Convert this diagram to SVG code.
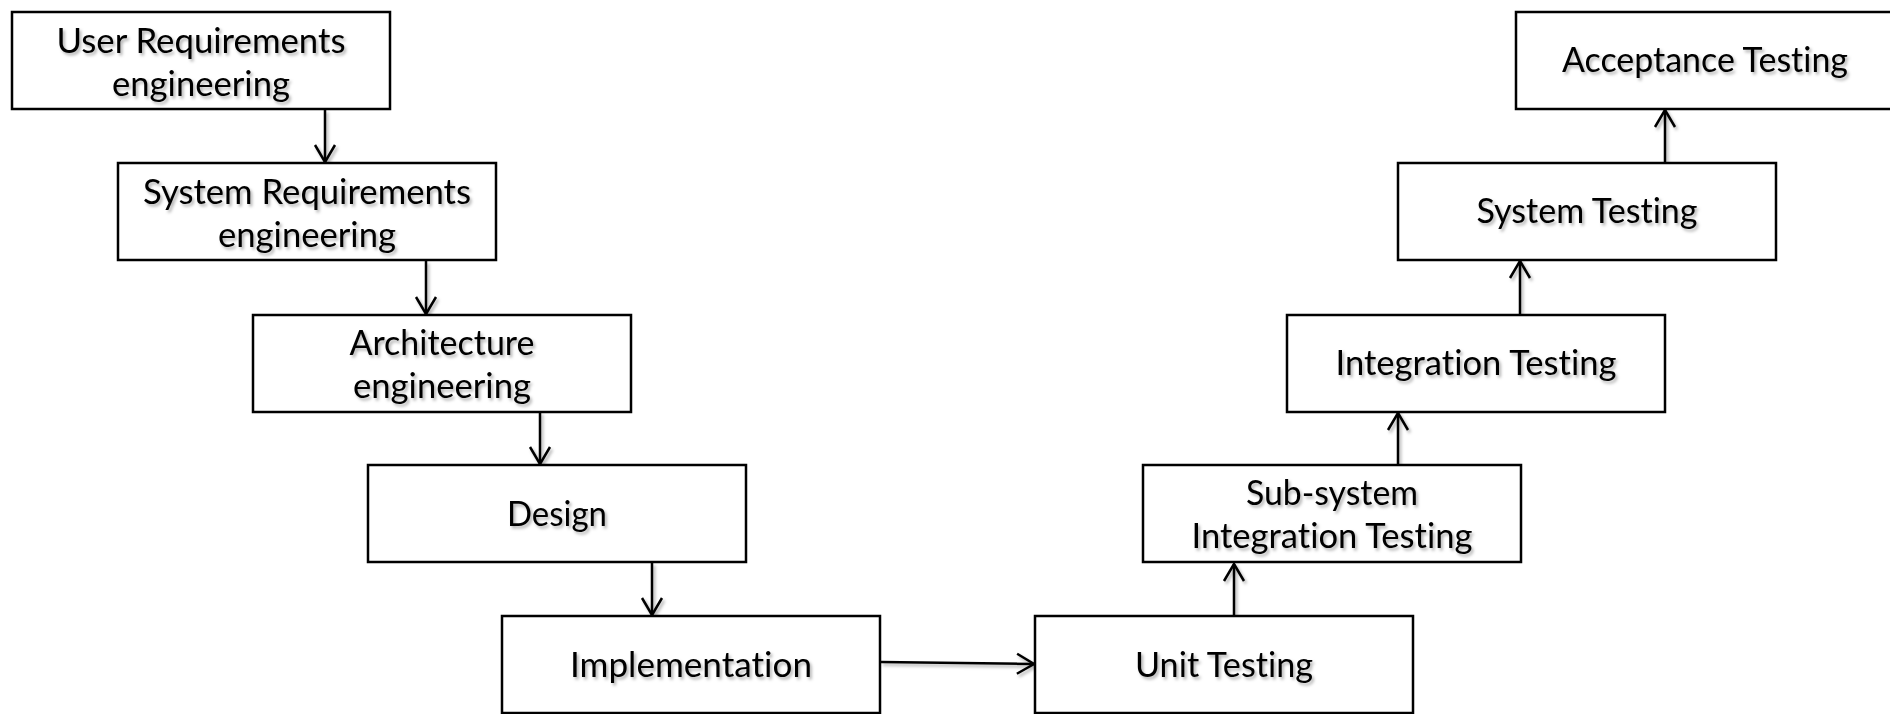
<svg xmlns="http://www.w3.org/2000/svg" width="1890" height="714" viewBox="0 0 1890 714">
  <style>
    .box { fill: #ffffff; stroke: #000000; stroke-width: 2.5; }
    .lbl { font-family: Lato, "Open Sans", "Liberation Sans", sans-serif; font-size: 35px; fill: #000000; text-anchor: middle; font-variant-ligatures: none; font-feature-settings: "liga" 0; }
    .wire { fill: none; stroke: #000000; stroke-width: 2.5; marker-end: url(#chev); }
    .soft { filter: url(#shade); }
  </style>
  <defs>
    <!-- soft grey drop shadow used by the labels and the lines -->
    <filter id="shade" x="-10%" y="-20%" width="130%" height="160%">
      <feDropShadow dx="2" dy="2.5" stdDeviation="1.6" flood-color="#000000" flood-opacity="0.3"/>
    </filter>
    <!-- open V arrowhead -->
    <marker id="chev" viewBox="-20 -12 24 24" refX="0" refY="0" markerWidth="24" markerHeight="24" markerUnits="userSpaceOnUse" orient="auto">
      <path d="M -17 -10 L 0 0 L -17 10" fill="none" stroke="#000000" stroke-width="2.5"/>
    </marker>
  </defs>

  <rect x="0" y="0" width="1890" height="714" fill="#ffffff"/>

  <!-- connectors -->
  <g id="connectors" class="soft">
    <line class="wire" x1="325" y1="110" x2="325" y2="162"/>
    <line class="wire" x1="426" y1="261" x2="426" y2="314"/>
    <line class="wire" x1="540" y1="412" x2="540" y2="464"/>
    <line class="wire" x1="652" y1="563" x2="652" y2="615"/>
    <line class="wire" x1="881" y1="662" x2="1034" y2="664"/>
    <line class="wire" x1="1234" y1="616" x2="1234" y2="564"/>
    <line class="wire" x1="1398" y1="465" x2="1398" y2="413"/>
    <line class="wire" x1="1520" y1="315" x2="1520" y2="261"/>
    <line class="wire" x1="1665" y1="163" x2="1665" y2="110"/>
  </g>

  <!-- left leg: engineering stages -->
  <g id="user-requirements">
    <rect class="box" x="12" y="12" width="378" height="97"/>
    <g class="soft">
      <text class="lbl" x="201" y="53" textLength="289" lengthAdjust="spacingAndGlyphs">User Requirements</text>
      <text class="lbl" x="201" y="96" textLength="178" lengthAdjust="spacingAndGlyphs">engineering</text>
    </g>
  </g>
  <g id="system-requirements">
    <rect class="box" x="118" y="163" width="378" height="97"/>
    <g class="soft">
      <text class="lbl" x="307" y="204" textLength="328" lengthAdjust="spacingAndGlyphs">System Requirements</text>
      <text class="lbl" x="307" y="247" textLength="178" lengthAdjust="spacingAndGlyphs">engineering</text>
    </g>
  </g>
  <g id="architecture">
    <rect class="box" x="253" y="315" width="378" height="97"/>
    <g class="soft">
      <text class="lbl" x="442" y="355" textLength="185" lengthAdjust="spacingAndGlyphs">Architecture</text>
      <text class="lbl" x="442" y="398" textLength="178" lengthAdjust="spacingAndGlyphs">engineering</text>
    </g>
  </g>
  <g id="design">
    <rect class="box" x="368" y="465" width="378" height="97"/>
    <text class="lbl soft" x="557" y="526" textLength="100" lengthAdjust="spacingAndGlyphs">Design</text>
  </g>
  <g id="implementation">
    <rect class="box" x="502" y="616" width="378" height="97"/>
    <text class="lbl soft" x="691" y="677" textLength="242" lengthAdjust="spacingAndGlyphs">Implementation</text>
  </g>

  <!-- right leg: testing stages -->
  <g id="unit-testing">
    <rect class="box" x="1035" y="616" width="378" height="97"/>
    <text class="lbl soft" x="1224" y="677" textLength="178" lengthAdjust="spacingAndGlyphs">Unit Testing</text>
  </g>
  <g id="subsystem-integration-testing">
    <rect class="box" x="1143" y="465" width="378" height="97"/>
    <g class="soft">
      <text class="lbl" x="1332" y="505" textLength="172" lengthAdjust="spacingAndGlyphs">Sub-system</text>
      <text class="lbl" x="1332" y="548" textLength="281" lengthAdjust="spacingAndGlyphs">Integration Testing</text>
    </g>
  </g>
  <g id="integration-testing">
    <rect class="box" x="1287" y="315" width="378" height="97"/>
    <text class="lbl soft" x="1476" y="375" textLength="281" lengthAdjust="spacingAndGlyphs">Integration Testing</text>
  </g>
  <g id="system-testing">
    <rect class="box" x="1398" y="163" width="378" height="97"/>
    <text class="lbl soft" x="1587" y="223" textLength="221" lengthAdjust="spacingAndGlyphs">System Testing</text>
  </g>
  <g id="acceptance-testing">
    <rect class="box" x="1516" y="12" width="378" height="97"/>
    <text class="lbl soft" x="1705" y="72" textLength="286" lengthAdjust="spacingAndGlyphs">Acceptance Testing</text>
  </g>
</svg>
